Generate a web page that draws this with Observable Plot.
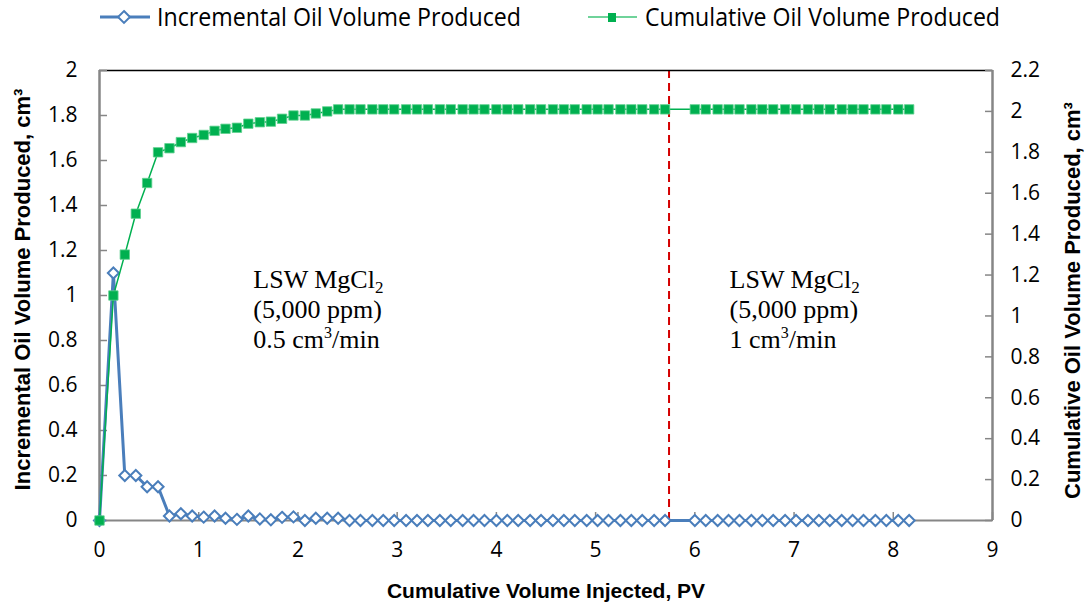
<!DOCTYPE html>
<html>
<head>
<meta charset="utf-8">
<script src="https://cdn.jsdelivr.net/npm/d3@7"></script>
<script src="https://cdn.jsdelivr.net/npm/@observablehq/plot@0.6"></script>
<style>
  html, body { margin: 0; padding: 0; background: #fff; }
  #legend { height: 35px; }
  #legend svg, #chart svg { display: block; }
</style>
</head>
<body>
<div id="legend"></div>
<div id="chart"></div>
<script>
// ---- data ----
const pvInjected = [0, 0.14, 0.255, 0.366, 0.48, 0.59, 0.705, 0.82, 0.934, 1.05,
  1.16, 1.27, 1.385, 1.50, 1.616, 1.727, 1.84, 1.955, 2.07, 2.18,
  2.295, 2.405, 2.52, 2.63, 2.75, 2.86, 2.97, 3.09, 3.20, 3.31,
  3.43, 3.54, 3.66, 3.77, 3.88, 4.00, 4.11, 4.22, 4.34, 4.45,
  4.57, 4.68, 4.79, 4.91, 5.02, 5.13, 5.25, 5.36, 5.47, 5.59,
  5.70,
  6.00, 6.11, 6.23, 6.34, 6.45, 6.57, 6.68, 6.79, 6.91, 7.02,
  7.14, 7.25, 7.36, 7.48, 7.59, 7.70, 7.82, 7.93, 8.05, 8.16];

const incrementalOil = [0, 1.1, 0.2, 0.2, 0.15, 0.15, 0.02, 0.03, 0.02, 0.015,
  0.02, 0.01, 0.005, 0.02, 0.007, 0.003, 0.014, 0.016, 0, 0.01,
  0.01, 0.01, 0, 0, 0, 0, 0, 0, 0, 0,
  0, 0, 0, 0, 0, 0, 0, 0, 0, 0,
  0, 0, 0, 0, 0, 0, 0, 0, 0, 0,
  0,
  0, 0, 0, 0, 0, 0, 0, 0, 0, 0,
  0, 0, 0, 0, 0, 0, 0, 0, 0, 0];

const cumulativeOil = [0, 1.1, 1.3, 1.5, 1.65, 1.8, 1.82, 1.85, 1.87, 1.885,
  1.905, 1.915, 1.92, 1.94, 1.947, 1.95, 1.964, 1.98, 1.98, 1.99,
  2.0, 2.01, 2.01, 2.01, 2.01, 2.01, 2.01, 2.01, 2.01, 2.01,
  2.01, 2.01, 2.01, 2.01, 2.01, 2.01, 2.01, 2.01, 2.01, 2.01,
  2.01, 2.01, 2.01, 2.01, 2.01, 2.01, 2.01, 2.01, 2.01, 2.01,
  2.01,
  2.01, 2.01, 2.01, 2.01, 2.01, 2.01, 2.01, 2.01, 2.01, 2.01,
  2.01, 2.01, 2.01, 2.01, 2.01, 2.01, 2.01, 2.01, 2.01, 2.01];

const xTicks = [0, 1, 2, 3, 4, 5, 6, 7, 8, 9];
const leftTicks = [0, 0.2, 0.4, 0.6, 0.8, 1, 1.2, 1.4, 1.6, 1.8, 2];
const rightTicks = [0, 0.2, 0.4, 0.6, 0.8, 1, 1.2, 1.4, 1.6, 1.8, 2, 2.2];
const rateChange = [5.74];

const seriesNames = ["Incremental Oil Volume Produced", "Cumulative Oil Volume Produced"];
const xTitle = "Cumulative Volume Injected, PV";
const leftTitle = "Incremental Oil Volume Produced, cm³";
const rightTitle = "Cumulative Oil Volume Produced, cm³";
const noteLeft = "LSW MgCl2\n(5,000 ppm)\n0.5 cm3/min";
const noteRight = "LSW MgCl2\n(5,000 ppm)\n1 cm3/min";

// ---- build ----
const leftMax = 2, rightMax = 2.2;
const toLeft = v => v * leftMax / rightMax;
const rows = pvInjected.map((x, i) => ({x, inc: incrementalOil[i], cum: toLeft(cumulativeOil[i])}));

const BLUE = "#4A7EBB", GREEN = "#00B050", AXIS = "#868686";
const TITLE_FONT = "'Liberation Sans', Arial, sans-serif";
const NOTE_FONT = "'Liberation Serif', 'Times New Roman', serif";

const plot = Plot.plot({
  width: 1088, height: 572,
  marginTop: 35, marginBottom: 87, marginLeft: 99, marginRight: 96,
  x: {domain: [0, 9]},
  y: {domain: [0, leftMax]},
  style: {fontFamily: "'Open Sans', sans-serif", fontSize: "21px", color: "#000", background: "#fff"},
  marks: [
    Plot.ruleX(rateChange, {stroke: "#d40000", strokeWidth: 2, strokeDasharray: "8,5"}),
    Plot.ruleY([leftMax], {stroke: "#000", strokeWidth: 1.5}),
    Plot.ruleY([0], {stroke: AXIS, strokeWidth: 2}),
    Plot.ruleX([0], {stroke: AXIS, strokeWidth: 2.5}),
    Plot.ruleX([9], {stroke: AXIS, strokeWidth: 2.5}),
    Plot.axisX(xTicks, {anchor: "bottom", tickSize: -8, tickPadding: 30, stroke: AXIS, strokeWidth: 1.5, label: null, tickFormat: d => d}),
    Plot.axisY(leftTicks, {anchor: "left", tickSize: -8, tickPadding: 30, stroke: AXIS, strokeWidth: 1.5, label: null, tickFormat: d => d}),
    Plot.axisY(rightTicks.map(toLeft), {anchor: "right", tickSize: -8, tickPadding: 26, stroke: AXIS, strokeWidth: 1.5, label: null,
      tickFormat: d => String(Math.round(d * rightMax / leftMax * 10) / 10)}),
    Plot.line(rows, {x: "x", y: "inc", stroke: BLUE, strokeWidth: 3}),
    Plot.dot(rows, {x: "x", y: "inc", symbol: "diamond2", r: 5, stroke: BLUE, strokeWidth: 2, fill: "#fff"}),
    Plot.line(rows, {x: "x", y: "cum", stroke: GREEN, strokeWidth: 1.5}),
    Plot.dot(rows, {x: "x", y: "cum", symbol: "square", r: 5.3, fill: GREEN, stroke: "#5fd08f", strokeWidth: 0.8}),
    Plot.text([noteLeft], {x: 1.55, y: 1.127, text: d => d, textAnchor: "start", lineAnchor: "top", lineHeight: 1.154,
      fontFamily: NOTE_FONT, fontSize: 26, fill: "#000"}),
    Plot.text([noteRight], {x: 6.35, y: 1.127, text: d => d, textAnchor: "start", lineAnchor: "top", lineHeight: 1.154,
      fontFamily: NOTE_FONT, fontSize: 26, fill: "#000"}),
    Plot.text([xTitle], {frameAnchor: "bottom", dy: 71, textAnchor: "middle", lineAnchor: "middle", text: d => d,
      fontFamily: TITLE_FONT, fontWeight: "bold", fontSize: 21, fill: "#000"}),
    Plot.text([leftTitle], {frameAnchor: "left", dx: -77, dy: -6, rotate: -90, textAnchor: "middle", lineAnchor: "middle", text: d => d,
      fontFamily: TITLE_FONT, fontWeight: "bold", fontSize: 22, fill: "#000"}),
    Plot.text([rightTitle], {frameAnchor: "right", dx: 80, dy: 5, rotate: -90, textAnchor: "middle", lineAnchor: "middle", text: d => d,
      fontFamily: TITLE_FONT, fontWeight: "bold", fontSize: 22, fill: "#000"})
  ]
});
document.getElementById("chart").appendChild(plot);

// subscript / superscript in the annotations
d3.select(plot).selectAll("tspan, text").each(function() {
  const el = this;
  if (el.childElementCount) return;
  const t = el.textContent;
  if (t === "LSW MgCl2") el.innerHTML = 'LSW MgCl<tspan baseline-shift="-5" font-size="17">2</tspan>';
  else if (/cm3\/min$/.test(t)) el.innerHTML = t.replace("cm3/min", 'cm<tspan baseline-shift="10" font-size="16">3</tspan>/min');
});

// legend
const lg = d3.select("#legend").append("svg").attr("width", 1088).attr("height", 35);
const items = [
  {x0: 100, x1: 150, cx: 124, tx: 157, tw: 364, name: seriesNames[0], sym: "diamond"},
  {x0: 588, x1: 637, cx: 612, tx: 645, tw: 355, name: seriesNames[1], sym: "square"}
];
for (const it of items) {
  lg.append("line").attr("x1", it.x0).attr("x2", it.x1).attr("y1", 17).attr("y2", 17)
    .attr("stroke", it.sym === "diamond" ? BLUE : "#6fd39a").attr("stroke-width", it.sym === "diamond" ? 3 : 2);
  if (it.sym === "diamond") {
    lg.append("path").attr("d", d3.symbol(d3.symbolDiamond2, 90)()).attr("transform", `translate(${it.cx},17)`)
      .attr("fill", "#fff").attr("stroke", BLUE).attr("stroke-width", 2);
  } else {
    lg.append("rect").attr("x", it.cx - 4).attr("y", 13).attr("width", 8).attr("height", 9).attr("fill", GREEN);
  }
  lg.append("text").attr("x", it.tx).attr("y", 26).attr("textLength", it.tw).attr("lengthAdjust", "spacingAndGlyphs")
    .attr("font-family", "'Open Sans', sans-serif").attr("font-size", 25).attr("fill", "#000").text(it.name);
}
</script>
</body>
</html>
